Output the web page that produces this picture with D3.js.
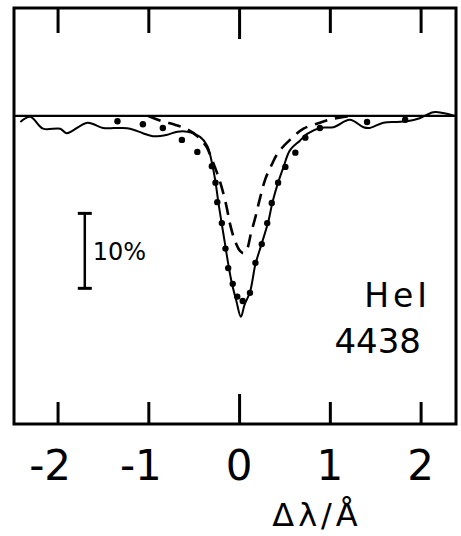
<!DOCTYPE html>
<html><head><meta charset="utf-8">
<script src="https://cdn.jsdelivr.net/npm/d3@7"></script>
<style>body{margin:0;background:#fff}svg{display:block}</style>
</head><body>
<script>
// Data (Δλ in Å, relative flux in % of continuum)
const xTicks = [-2, -1, 0, 1, 2];
const xTickLabels = ["-2", "-1", "0", "1", "2"];
const continuum = 100;
const observed = [[-2.41,99.2],[-2.30,99.9],[-2.16,98.3],[-1.97,98.3],[-1.90,97.7],[-1.67,99.1],[-1.50,98.4],[-1.31,98.4],[-1.20,98.3],[-1.06,97.7],[-0.95,97.3],[-0.79,97.5],[-0.68,97.9],[-0.57,97.9],[-0.43,97.2],[-0.35,96.0],[-0.30,93.8],[-0.26,91.2],[-0.23,88.6],[-0.20,86.3],[-0.16,83.3],[-0.12,80.3],[-0.08,77.7],[-0.03,75.3],[0.02,73.2],[0.06,74.8],[0.12,76.5],[0.18,80.2],[0.25,83.0],[0.32,85.8],[0.37,88.6],[0.43,91.1],[0.49,93.2],[0.56,95.4],[0.67,96.7],[0.75,97.6],[0.89,98.4],[1.04,98.5],[1.22,99.5],[1.37,98.5],[1.44,98.4],[1.59,99.1],[1.74,99.2],[1.85,99.3],[1.99,99.7],[2.14,100.5],[2.25,100.4],[2.38,100.0]];
const modelDashed = [[-1.00,100.0],[-0.85,99.3],[-0.70,98.8],[-0.57,98.2],[-0.46,97.3],[-0.36,95.9],[-0.30,94.2],[-0.24,92.3],[-0.19,90.4],[-0.14,88.0],[-0.10,85.6],[-0.05,83.5],[0.01,82.0],[0.05,81.7],[0.09,82.3],[0.13,84.3],[0.18,86.5],[0.23,89.0],[0.29,91.6],[0.36,93.5],[0.43,95.1],[0.56,96.8],[0.71,98.3],[0.89,99.1],[1.03,99.6],[1.22,100.0]];
const modelDots = [[-1.34,99.3],[-1.06,98.9],[-0.84,98.4],[-0.63,96.8],[-0.46,95.2],[-0.30,93.3],[-0.26,91.1],[-0.24,88.5],[-0.19,85.7],[-0.15,82.3],[-0.12,79.7],[-0.07,77.6],[-0.02,75.9],[0.04,75.3],[0.12,76.4],[0.18,80.4],[0.25,82.9],[0.31,85.7],[0.36,88.4],[0.43,91.1],[0.51,93.2],[0.62,95.1],[0.73,97.1],[0.89,98.4],[1.41,99.2],[1.83,99.5]];
const scaleBar = {x: -1.70, top: 87.0, bottom: 77.0, label: "10%"};
const lineName = ["HeI", "4438"];
const xTitle = "Δλ/Å";

const W = 461, H = 536;
const L = 14, R = 456, T = 8, B = 424;
const svg = d3.select("body").append("svg").attr("width", W).attr("height", H);
const x = d3.scaleLinear().domain([-2.48, 2.39]).range([L, R]);
const y = d3.scaleLinear().domain([58.9, 114.4]).range([B, T]);
const font = "'DejaVu Sans', sans-serif";

// frame
svg.append("rect").attr("x", L).attr("y", T).attr("width", R - L).attr("height", B - T)
  .attr("fill", "none").attr("stroke", "#000").attr("stroke-width", 3);

// bottom axis
const axB = svg.append("g").attr("transform", `translate(0,${B})`)
  .call(d3.axisBottom(x).tickValues(xTicks).tickSizeInner(-22).tickSizeOuter(0)
    .tickFormat((d, i) => xTickLabels[i]));
axB.select(".domain").remove();
axB.selectAll(".tick line").attr("stroke", "#000").attr("stroke-width", 3)
  .attr("y2", d => d === 0 ? -30 : -22);
axB.selectAll(".tick text").attr("fill", "#000").attr("font-family", font).attr("font-size", 42)
  .attr("text-anchor", "end").attr("x", 13).attr("y", 56).attr("dy", 0);

// top axis
const axT = svg.append("g").attr("transform", `translate(0,${T})`)
  .call(d3.axisTop(x).tickValues(xTicks).tickSizeInner(-25).tickSizeOuter(0).tickFormat(""));
axT.select(".domain").remove();
axT.selectAll(".tick line").attr("stroke", "#000").attr("stroke-width", 3)
  .attr("y2", d => d === 0 ? 31 : 25);

// continuum
svg.append("line").attr("x1", L).attr("x2", R).attr("y1", y(continuum)).attr("y2", y(continuum))
  .attr("stroke", "#000").attr("stroke-width", 2.3);

const line = d3.line().x(d => x(d[0])).y(d => y(d[1])).curve(d3.curveCatmullRom.alpha(0.5));
svg.append("path").attr("d", line(observed)).attr("fill", "none").attr("stroke", "#000")
  .attr("stroke-width", 2).attr("stroke-linejoin", "round");
svg.append("path").attr("d", line(modelDashed)).attr("fill", "none").attr("stroke", "#000")
  .attr("stroke-width", 2.6).attr("stroke-dasharray", "13,8");
svg.append("g").selectAll("circle").data(modelDots).join("circle")
  .attr("cx", d => x(d[0])).attr("cy", d => y(d[1])).attr("r", 3.2).attr("fill", "#000");

// scale bar
const sb = svg.append("g").attr("stroke", "#000").attr("stroke-width", 2.5);
sb.append("line").attr("x1", x(scaleBar.x)).attr("x2", x(scaleBar.x)).attr("y1", y(scaleBar.top)).attr("y2", y(scaleBar.bottom));
[scaleBar.top, scaleBar.bottom].forEach(v => sb.append("line")
  .attr("x1", x(scaleBar.x) - 7).attr("x2", x(scaleBar.x) + 7).attr("y1", y(v)).attr("y2", y(v)).attr("stroke-width", 3));
svg.append("text").attr("x", x(scaleBar.x) + 8).attr("y", y((scaleBar.top + scaleBar.bottom) / 2) + 9)
  .attr("font-family", font).attr("font-size", 24).text(scaleBar.label);

// line name
svg.append("text").attr("x", 431).attr("y", 307).attr("text-anchor", "end")
  .attr("font-family", font).attr("font-size", 33).attr("letter-spacing", 4).text(lineName[0]);
svg.append("text").attr("x", 421).attr("y", 353).attr("text-anchor", "end")
  .attr("font-family", font).attr("font-size", 34).text(lineName[1]);

// x title
svg.append("text").attr("x", 317).attr("y", 526).attr("text-anchor", "middle")
  .attr("font-family", font).attr("font-size", 32).attr("letter-spacing", 4).text(xTitle);
</script>
</body></html>
